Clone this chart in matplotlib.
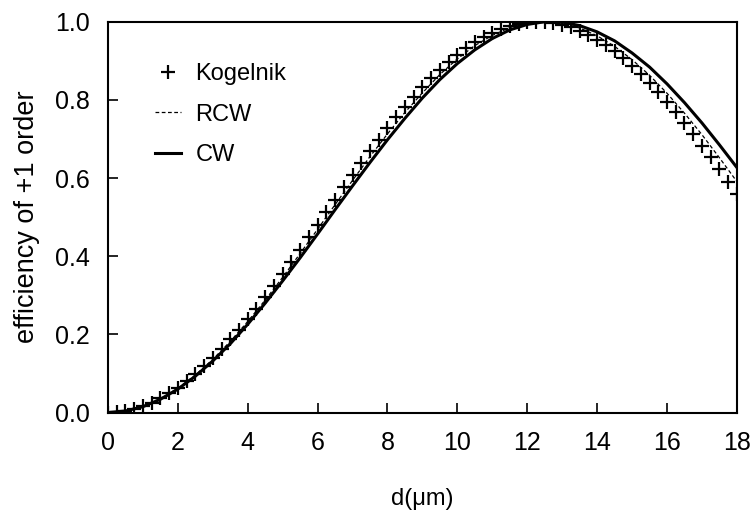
import numpy as np
import matplotlib
matplotlib.use("Agg")
import matplotlib.pyplot as plt

plt.rcParams["font.family"] = ["Liberation Sans", "DejaVu Sans"]

# Kogelnik (coupled-wave approximation), sampled every 0.25 um
d_kog = np.arange(0, 18.01, 0.25)
eff_kog = [0.000, 0.001, 0.004, 0.009, 0.016, 0.025, 0.036, 0.049, 0.064,
           0.080, 0.098, 0.118, 0.140, 0.162, 0.187, 0.212, 0.239, 0.266,
           0.295, 0.325, 0.355, 0.385, 0.417, 0.448, 0.480, 0.512, 0.544,
           0.576, 0.607, 0.638, 0.669, 0.698, 0.727, 0.756, 0.783, 0.808,
           0.833, 0.856, 0.877, 0.897, 0.916, 0.932, 0.948, 0.961, 0.972,
           0.982, 0.989, 0.995, 0.998, 1.000, 0.999, 0.997, 0.992, 0.986,
           0.977, 0.967, 0.954, 0.940, 0.924, 0.906, 0.887, 0.866, 0.843,
           0.819, 0.794, 0.768, 0.740, 0.712, 0.683, 0.653, 0.622, 0.591,
           0.559]

# rigorous coupled-wave and coupled-wave results, every 0.5 um
d_line = np.arange(0, 18.01, 0.5)
eff_rcw = [0.000, 0.004, 0.016, 0.035, 0.062, 0.096, 0.136, 0.182, 0.233,
           0.288, 0.346, 0.407, 0.469, 0.532, 0.594, 0.655, 0.713, 0.768,
           0.818, 0.865, 0.905, 0.939, 0.965, 0.985, 0.996, 1.000, 0.996,
           0.984, 0.964, 0.937, 0.903, 0.863, 0.817, 0.766, 0.711, 0.652,
           0.591]
eff_cw = [0.000, 0.004, 0.015, 0.034, 0.060, 0.093, 0.132, 0.176, 0.226,
          0.280, 0.337, 0.396, 0.457, 0.519, 0.580, 0.640, 0.698, 0.753,
          0.805, 0.852, 0.893, 0.928, 0.957, 0.979, 0.993, 1.000, 0.999,
          0.990, 0.974, 0.951, 0.920, 0.884, 0.841, 0.793, 0.741, 0.685,
          0.627]

fig = plt.figure(figsize=(7.55, 5.17), dpi=100)
ax = fig.add_axes([0.143, 0.202, 0.833, 0.756])

ax.plot(d_kog, eff_kog, linestyle="none", marker="+", markersize=10,
        markeredgewidth=1.6, color="black", label="Kogelnik")
ax.plot(d_line, eff_rcw, linestyle=(0, (3, 2)), linewidth=0.9,
        color="black", label="RCW")
ax.plot(d_line, eff_cw, linestyle="-", linewidth=2.2, color="black",
        label="CW")

ax.set_xlim(0, 18)
ax.set_ylim(0, 1.0)
ax.set_xticks(np.arange(0, 19, 2))
ax.set_yticks(np.arange(0, 1.01, 0.2))
ax.set_yticklabels([f"{v:.1f}" for v in np.arange(0, 1.01, 0.2)])
ax.tick_params(direction="in", length=7, width=1.2, labelsize=18, pad=13)
for s in ax.spines.values():
    s.set_linewidth(1.5)

ax.set_xlabel("d(μm)", fontsize=17, labelpad=24)
ax.set_ylabel("efficiency of +1 order", fontsize=19.5, labelpad=11)

ax.legend(loc="upper left", bbox_to_anchor=(0.06, 0.918), frameon=False,
          fontsize=17, handlelength=1.1, labelspacing=0.78,
          handletextpad=0.6, borderaxespad=0)

fig.savefig("out.png", dpi=100)
